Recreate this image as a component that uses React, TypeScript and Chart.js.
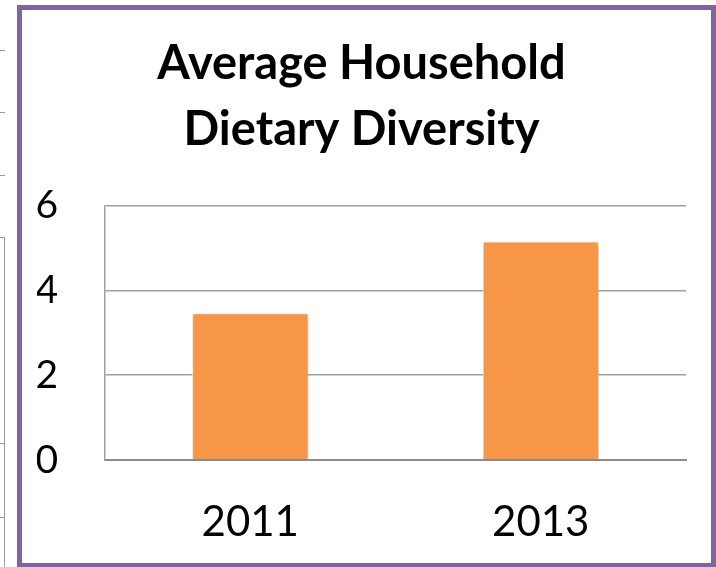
import React, { useEffect, useRef } from "react";
import { Chart, registerables } from "chart.js";

Chart.register(...registerables);

const categories = ["2011", "2013"];
const dietaryDiversity = [3.46, 5.15];
const titleLines = ["Average Household", "Dietary Diversity"];

// soft drop shadow behind the bars
const barShadow = {
  id: "barShadow",
  beforeDatasetDraw(chart: any) {
    const ctx = chart.ctx;
    ctx.save();
    ctx.shadowColor = "rgba(0,0,0,0.3)";
    ctx.shadowBlur = 5;
    ctx.shadowOffsetX = 2;
    ctx.shadowOffsetY = 2;
  },
  afterDatasetDraw(chart: any) {
    chart.ctx.restore();
  },
};

export default function App() {
  const canvasRef = useRef<HTMLCanvasElement | null>(null);

  useEffect(() => {
    document.body.style.margin = "0";
    document.body.style.overflow = "hidden";
    const chart = new Chart(canvasRef.current as HTMLCanvasElement, {
      type: "bar",
      data: {
        labels: categories,
        datasets: [
          {
            data: dietaryDiversity,
            backgroundColor: "#F79646",
            borderColor: "#FFF3EA",
            borderWidth: 1,
            barPercentage: 0.4,
            categoryPercentage: 1,
          },
        ],
      },
      plugins: [barShadow],
      options: {
        animation: false,
        responsive: false,
        layout: { padding: { left: 37, right: 30, top: 0, bottom: 22 } },
        plugins: {
          legend: { display: false },
          tooltip: { enabled: false },
          title: {
            display: true,
            text: titleLines,
            color: "#000",
            font: { family: "Lato", size: 47, weight: "bold", lineHeight: 1.42 },
            padding: { top: 30, bottom: 42 },
          },
        },
        scales: {
          x: {
            grid: { display: false, drawTicks: false },
            border: { display: true, color: "#8C8C8C", width: 2 },
            ticks: {
              color: "#000",
              padding: 37,
              font: { family: "Lato", size: 42, lineHeight: 1.2 },
            },
            afterFit: (scale: any) => {
              scale.height = 85;
            },
          },
          y: {
            min: 0,
            max: 6,
            ticks: {
              stepSize: 2,
              color: "#000",
              padding: 47,
              font: { family: "Lato", size: 39, lineHeight: 1.2 },
            },
            grid: { color: "#A0A0A0", lineWidth: 1.5, drawTicks: false },
            border: { display: true, color: "#A0A0A0", width: 1.5 },
            afterFit: (scale: any) => {
              scale.width = 68;
            },
          },
        },
      },
    });
    return () => chart.destroy();
  }, []);

  const leftMarks: React.CSSProperties[] = [
    { left: 0, top: 50, width: 5, height: 1 },
    { left: 0, top: 112, width: 5, height: 1 },
    { left: 0, top: 175, width: 5, height: 1 },
    { left: 0, top: 237, width: 5, height: 1 },
    { left: 4, top: 237, width: 1, height: 340 },
    { left: 0, top: 443, width: 5, height: 1 },
    { left: 0, top: 517, width: 5, height: 1 },
  ];

  return (
    <div style={{ position: "relative", width: 716, height: 567, overflow: "hidden", background: "#fff" }}>
      {leftMarks.map((s, i) => (
        <div key={i} style={{ position: "absolute", background: "#9A9A9A", ...s }} />
      ))}
      <canvas ref={canvasRef} width={716} height={567} style={{ position: "absolute", left: 0, top: 0 }} />
      <div
        style={{
          position: "absolute",
          left: 17,
          top: 5,
          width: 699,
          height: 563,
          boxSizing: "border-box",
          border: "5px solid #8064A2",
          pointerEvents: "none",
        }}
      />
    </div>
  );
}
